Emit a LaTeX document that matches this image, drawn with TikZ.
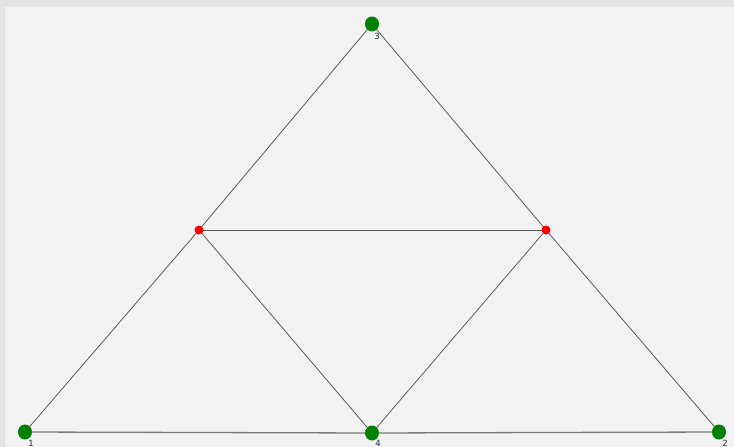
\documentclass[tikz,border=0pt]{standalone}
\usepackage{fontspec}
\setmainfont{DejaVu Sans}
\usetikzlibrary{shapes.geometric}
\definecolor{outerbg}{HTML}{E4E4E4}
\definecolor{innerbg}{HTML}{F2F2F2}
\definecolor{nodegreen}{HTML}{008000}
\definecolor{nodered}{HTML}{FF0000}
\definecolor{edgecol}{HTML}{5A5A5A}
\definecolor{labcol}{HTML}{1A2A40}
\begin{document}
\begin{tikzpicture}[x=1pt,y=-1pt,
  bignode/.style={ellipse,fill=nodegreen,inner sep=0pt,minimum width=14pt,minimum height=15pt},
  smallnode/.style={circle,fill=nodered,inner sep=0pt,minimum size=9pt},
  edge/.style={draw=edgecol,line width=0.8pt},
  lab/.style={font=\fontsize{8.5}{8.5}\selectfont,text=labcol,inner sep=0pt}]
\useasboundingbox (0,0) rectangle (734,447);
\fill[outerbg] (0,0) rectangle (734,447);
\fill[innerbg] (5,7) rectangle (734,447);
\coordinate (c1) at (25,432);
\coordinate (c2) at (719,432);
\coordinate (c3) at (372,24);
\coordinate (c4) at (372,433);
\coordinate (c5) at (199,230);
\coordinate (c6) at (546,230);
\draw[edge] (c3) -- (c5);
\draw[edge] (c5) -- (c1);
\draw[edge] (c3) -- (c6);
\draw[edge] (c6) -- (c2);
\draw[edge] (c5) -- (c6);
\draw[edge] (c5) -- (c4);
\draw[edge] (c6) -- (c4);
\draw[draw=edgecol!80,line width=1.3pt] (c1) -- (c4);
\draw[draw=edgecol!80,line width=1.3pt] (c4) -- (c2);
\node[bignode] (n1) at (c1) {};
\node[bignode] (n2) at (c2) {};
\node[bignode] (n3) at (c3) {};
\node[bignode] (n4) at (c4) {};
\node[smallnode] (n5) at (c5) {};
\node[smallnode] (n6) at (c6) {};
\node[lab] (l3) at (377,36) {3};
\node[lab] (l1) at (31,443) {1};
\node[lab] (l4) at (378,443) {4};
\node[lab] (l2) at (725,443) {2};
\end{tikzpicture}
\end{document}
